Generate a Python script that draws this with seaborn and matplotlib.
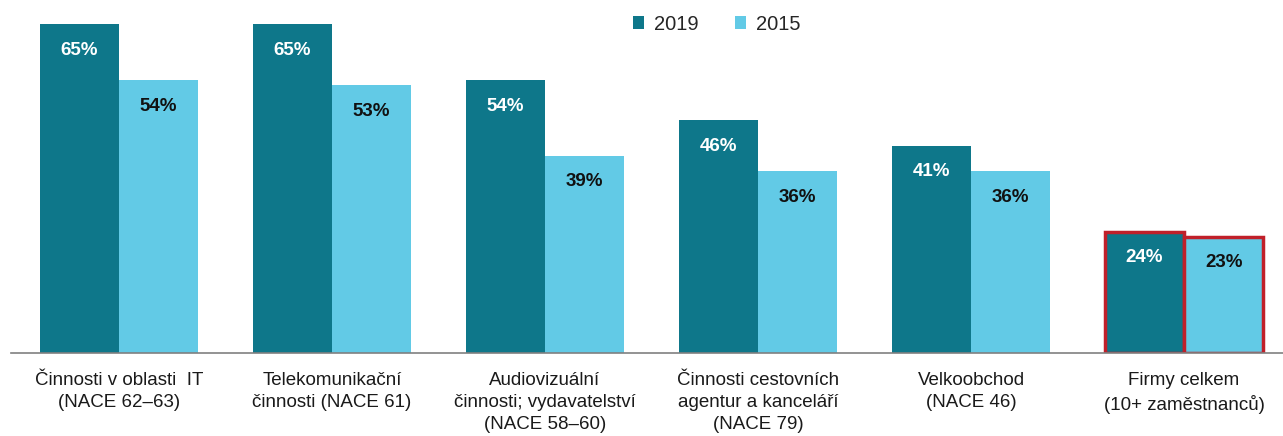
import matplotlib.pyplot as plt
import pandas as pd
import seaborn as sns
import numpy as np

categories = [
    "Činnosti v oblasti  IT\n(NACE 62–63)",
    "Telekomunikační\nčinnosti (NACE 61)",
    "Audiovizuální\nčinnosti; vydavatelství\n(NACE 58–60)",
    "Činnosti cestovních\nagentur a kanceláří\n(NACE 79)",
    "Velkoobchod\n(NACE 46)",
    "Firmy celkem\n(10+ zaměstnanců)",
]
values_2019 = [65, 65, 54, 46, 41, 24]
values_2015 = [54, 53, 39, 36, 36, 23]
years = ["2019", "2015"]
colors = {"2019": "#0e778a", "2015": "#62cae6"}

df = pd.DataFrame({
    "cat": categories * 2,
    "val": values_2019 + values_2015,
    "year": ["2019"] * 6 + ["2015"] * 6,
})

sns.set_style("white")
plt.rcParams['font.family'] = ['Liberation Sans', 'DejaVu Sans']

fig = plt.figure(figsize=(12.83, 4.36), dpi=100)
ax = fig.add_axes([11 / 1283, 83 / 436, 1272 / 1283, 353 / 436])

sns.barplot(data=df, x="cat", y="val", hue="year", hue_order=years,
            palette=colors, width=0.745, saturation=1, ax=ax, linewidth=0)

ax.set_ylim(0, 69.8)
ax.set_xlim(-108 / 213, 1164 / 213)
ax.set_xlabel("")
ax.set_ylabel("")
ax.set_yticks([])
for s in ["top", "right", "left"]:
    ax.spines[s].set_visible(False)
ax.spines["bottom"].set_color("#808080")
ax.spines["bottom"].set_linewidth(1.2)

ax.tick_params(axis="x", which="major", length=0, labelsize=13.5, pad=14, colors="#1a1a1a")
for t in ax.get_xticklabels():
    t.set_linespacing(1.38)
ax.set_xticks(np.arange(-0.5, 5.5, 1.0), minor=True)
ax.tick_params(axis="x", which="minor", length=6, width=1.2, color="#808080", direction="out")

# value labels inside the bars
for cont, yr in zip(ax.containers, years):
    labels = [f"{int(v)}%" for v in cont.datavalues]
    ax.bar_label(cont, labels=labels, padding=-25, fontsize=13.5, fontweight="bold",
                 color="white" if yr == "2019" else "#111111")

# red outline on the "Firmy celkem" bars
for cont in ax.containers:
    bar = cont.patches[-1]
    bar.set_edgecolor("#c0202a")
    bar.set_linewidth(2.5)

handles, labs = ax.get_legend_handles_labels()
ax.legend(handles, labs, loc="upper center", bbox_to_anchor=(0.555, 1.01), ncol=2,
          frameon=False, fontsize=14.5, handlelength=0.55, handleheight=0.55,
          columnspacing=1.8, handletextpad=0.5)

fig.savefig("out.png", dpi=100)
